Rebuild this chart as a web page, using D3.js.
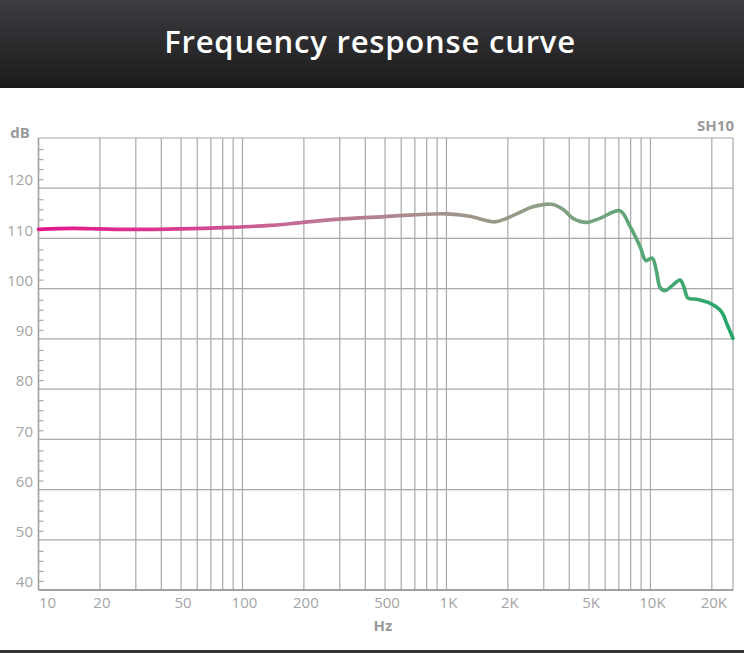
<!DOCTYPE html>
<meta charset="utf-8" />
<script src="https://d3js.org/d3.v7.min.js"></script>
<style>
  body { margin: 0; background: #fff; }
  text { font-family: "Open Sans", "Noto Sans", sans-serif; }
</style>
<div id="chart"></div>
<script>
  // curve (Hz, dB)
  const freqs = [10, 14.8, 20, 28, 49, 86, 136, 198, 289, 470, 687, 1002, 1300, 1729, 1973, 2291, 2654, 3280, 3725, 4170, 4867, 5653, 7082, 7939, 8890, 9500, 10200, 10700, 11140, 11780, 13960, 14550, 15300, 16830, 19550, 22320, 23640, 25400];
  const levels = [111.8, 112.0, 111.9, 111.8, 111.9, 112.2, 112.6, 113.2, 113.8, 114.3, 114.7, 114.9, 114.4, 113.3, 114.0, 115.2, 116.3, 116.8, 115.8, 114.0, 113.2, 114.0, 115.5, 112.4, 108.4, 105.6, 106.1, 103.5, 100.3, 99.6, 101.7, 100.5, 98.1, 97.9, 97.1, 95.4, 93.1, 90.1];

  const xTickValues = [10, 20, 50, 100, 200, 500, 1000, 2000, 5000, 10000, 20000];
  const xTickLabels = ["10", "20", "50", "100", "200", "500", "1K", "2K", "5K", "10K", "20K"];
  const yTickValues = [40, 50, 60, 70, 80, 90, 100, 110, 120];

  const title = "Frequency response curve";
  const modelName = "SH10";

  const W = 744, H = 653;
  const margin = { top: 138, right: 11, bottom: 63, left: 38.5 };

  const svg = d3.select("#chart").append("svg")
    .attr("width", W).attr("height", H);

  const defs = svg.append("defs");

  // header band
  const hg = defs.append("linearGradient").attr("id", "hdr")
    .attr("x1", 0).attr("y1", 0).attr("x2", 0).attr("y2", 1);
  hg.append("stop").attr("offset", "0%").attr("stop-color", "#3c3c41");
  hg.append("stop").attr("offset", "100%").attr("stop-color", "#1b1b1c");

  svg.append("rect").attr("x", 0).attr("y", 0).attr("width", W).attr("height", 88)
    .attr("fill", "url(#hdr)");
  svg.append("text")
    .attr("x", 370).attr("y", 53)
    .attr("text-anchor", "middle")
    .attr("fill", "#fff")
    .style("font-size", "31px")
    .style("font-weight", "600")
    .style("letter-spacing", "0.8px")
    .text(title);

  // bottom dark rule
  svg.append("rect").attr("x", 0).attr("y", 650).attr("width", W).attr("height", 3)
    .attr("fill", "#333");

  const x = d3.scaleLog().domain([10, 25400]).range([margin.left, W - margin.right]);
  const y = d3.scaleLinear().domain([40, 130]).range([H - margin.bottom, margin.top]);

  const grid = svg.append("g").attr("stroke", "#a8a8a8").attr("stroke-width", 1.2);

  // vertical grid lines
  grid.selectAll(".vl")
    .data(x.ticks().filter(d => d > 10))
    .join("line")
    .attr("class", "vl")
    .attr("x1", d => x(d)).attr("x2", d => x(d))
    .attr("y1", y(130)).attr("y2", y(40));

  // horizontal grid lines
  grid.selectAll(".hl")
    .data(yTickValues.slice(1).concat([130]))
    .join("line")
    .attr("class", "hl")
    .attr("x1", x(10)).attr("x2", x(25400))
    .attr("y1", d => y(d)).attr("y2", d => y(d));

  // frame: right edge, left axis, bottom axis
  grid.append("line").attr("x1", x(25400)).attr("x2", x(25400)).attr("y1", y(130)).attr("y2", y(40));
  svg.append("line").attr("x1", x(10)).attr("x2", x(10)).attr("y1", y(130)).attr("y2", y(40))
    .attr("stroke", "#a0a0a0").attr("stroke-width", 1.6);
  svg.append("line").attr("x1", x(10)).attr("x2", x(25400)).attr("y1", y(40)).attr("y2", y(40))
    .attr("stroke", "#a0a0a0").attr("stroke-width", 1.8);

  // minor ticks on the dB axis (every 2 dB)
  const minor = d3.range(42, 130, 2).filter(d => d % 10 !== 0);
  svg.append("g").selectAll("line")
    .data(minor)
    .join("line")
    .attr("x1", x(10)).attr("x2", x(10) + 5)
    .attr("y1", d => y(d) + 1.5).attr("y2", d => y(d) + 1.5)
    .attr("stroke", "#a8a8a8").attr("stroke-width", 1.2);

  // dB labels
  svg.append("g").selectAll("text")
    .data(yTickValues)
    .join("text")
    .attr("x", 33)
    .attr("y", d => y(d) - 8)
    .attr("dy", "0.35em")
    .attr("text-anchor", "end")
    .attr("fill", "#a5a5a5")
    .style("font-size", "15px")
    .text(d => d);

  // Hz labels
  svg.append("g").selectAll("text")
    .data(xTickValues)
    .join("text")
    .attr("x", (d, i) => i === 0 ? x(d) + 9 : x(d) + 2)
    .attr("y", 603)
    .attr("dy", "0.35em")
    .attr("text-anchor", "middle")
    .attr("fill", "#a5a5a5")
    .style("font-size", "15px")
    .text((d, i) => xTickLabels[i]);

  svg.append("text").attr("x", 20).attr("y", 133).attr("dy", "0.35em")
    .attr("text-anchor", "middle").attr("fill", "#9a9a9a")
    .style("font-size", "15px").style("font-weight", "bold").text("dB");
  svg.append("text").attr("x", 734).attr("y", 126).attr("dy", "0.35em")
    .attr("text-anchor", "end").attr("fill", "#9a9a9a")
    .style("font-size", "15px").style("font-weight", "bold").text(modelName);
  svg.append("text").attr("x", 383).attr("y", 626).attr("dy", "0.35em")
    .attr("text-anchor", "middle").attr("fill", "#9a9a9a")
    .style("font-size", "15px").style("font-weight", "bold").text("Hz");

  // curve gradient across x
  const cg = defs.append("linearGradient").attr("id", "curve")
    .attr("gradientUnits", "userSpaceOnUse")
    .attr("x1", x(10)).attr("y1", 0).attr("x2", x(25400)).attr("y2", 0);
  [["0%", "#e3168a"], ["20%", "#d83e90"], ["40%", "#bf7596"], ["58%", "#a3928a"],
   ["72%", "#8e9e85"], ["84%", "#62a67a"], ["100%", "#22a86a"]]
    .forEach(s => cg.append("stop").attr("offset", s[0]).attr("stop-color", s[1]));

  const pts = freqs.map((f, i) => [f, levels[i]]);
  const line = d3.line()
    .x(d => x(d[0]))
    .y(d => y(d[1]))
    .curve(d3.curveCatmullRom.alpha(0.5));

  svg.append("path")
    .datum(pts)
    .attr("d", line)
    .attr("fill", "none")
    .attr("stroke", "url(#curve)")
    .attr("stroke-width", 3.6)
    .attr("stroke-linecap", "round")
    .attr("stroke-linejoin", "round");
</script>
